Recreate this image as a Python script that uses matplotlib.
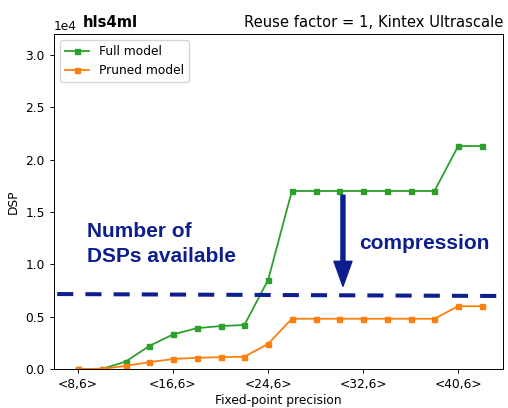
import matplotlib
matplotlib.use("Agg")
import matplotlib.pyplot as plt

# Data
bits = [8, 10, 12, 14, 16, 18, 20, 22, 24, 26, 28, 30, 32, 34, 36, 38, 40, 42]
full_model = [0, 0, 700, 2200, 3300, 3900, 4100, 4200, 8500, 17000, 17000, 17000,
              17000, 17000, 17000, 17000, 21300, 21300]
pruned_model = [0, 0, 300, 650, 950, 1070, 1130, 1170, 2400, 4800, 4800, 4800,
                4800, 4800, 4800, 4800, 6000, 6000]
tick_pos = [8, 16, 24, 32, 40]
tick_labels = ["<8,6>", "<16,6>", "<24,6>", "<32,6>", "<40,6>"]
dsp_available = [7160, 6970]  # hand-drawn line, slight slope

W, H = 508, 408
fig = plt.figure(figsize=(W / 100, H / 100), dpi=100)
ax = fig.add_axes([54 / W, (H - 369) / H, 449 / W, 335 / H])

fs = 8.8
navy = "#0d1f8f"
ax.plot(bits, full_model, color="#2ca02c", marker="s", markersize=3.6, lw=1.3,
        label="Full model")
ax.plot(bits, pruned_model, color="#ff7f0e", marker="s", markersize=3.6, lw=1.3,
        label="Pruned model")

ax.set_xlim(5.98, 43.77)
ax.set_ylim(0, 32000)
ax.set_xticks(tick_pos)
ax.set_xticklabels(tick_labels)
ax.set_yticks([0, 5000, 10000, 15000, 20000, 25000, 30000])
ax.ticklabel_format(axis="y", style="sci", scilimits=(0, 0))
ax.tick_params(labelsize=fs, length=3.1, width=0.7)
ax.yaxis.get_offset_text().set_fontsize(fs)
for s in ax.spines.values():
    s.set_linewidth(0.7)
ax.set_xlabel("Fixed-point precision", fontsize=fs, labelpad=2)
ax.set_ylabel("DSP", fontsize=fs, labelpad=4)

ax.legend(loc="upper left", fontsize=fs)

ax.text(0.065, 1.012, "hls4ml", transform=ax.transAxes, fontsize=10.6,
        fontweight="bold", ha="left", va="bottom")
ax.set_title("Reuse factor = 1, Kintex Ultrascale", loc="right", fontsize=10.6, pad=5)

# DSPs available line
ax.plot([6.25, 44.2], dsp_available, color=navy, lw=2.9, dashes=(4, 3),
        clip_on=False, solid_capstyle="butt", dash_capstyle="butt")

# arrow
ax.annotate("", xy=(30.3, 7900), xytext=(30.3, 16600),
            arrowprops=dict(arrowstyle="simple,head_width=1.3,head_length=1.8,tail_width=0.29",
                            mutation_scale=10, color=navy, shrinkA=0, shrinkB=0))

tf = dict(fontsize=15, fontweight="bold", color=navy, family="Liberation Sans",
          va="baseline", ha="left")
ax.text(8.78, 12640, "Number of", **tf)
ax.text(8.78, 10220, "DSPs available", **tf)
ax.text(31.67, 11460, "compression", **tf)

fig.savefig("out.png", dpi=100)
